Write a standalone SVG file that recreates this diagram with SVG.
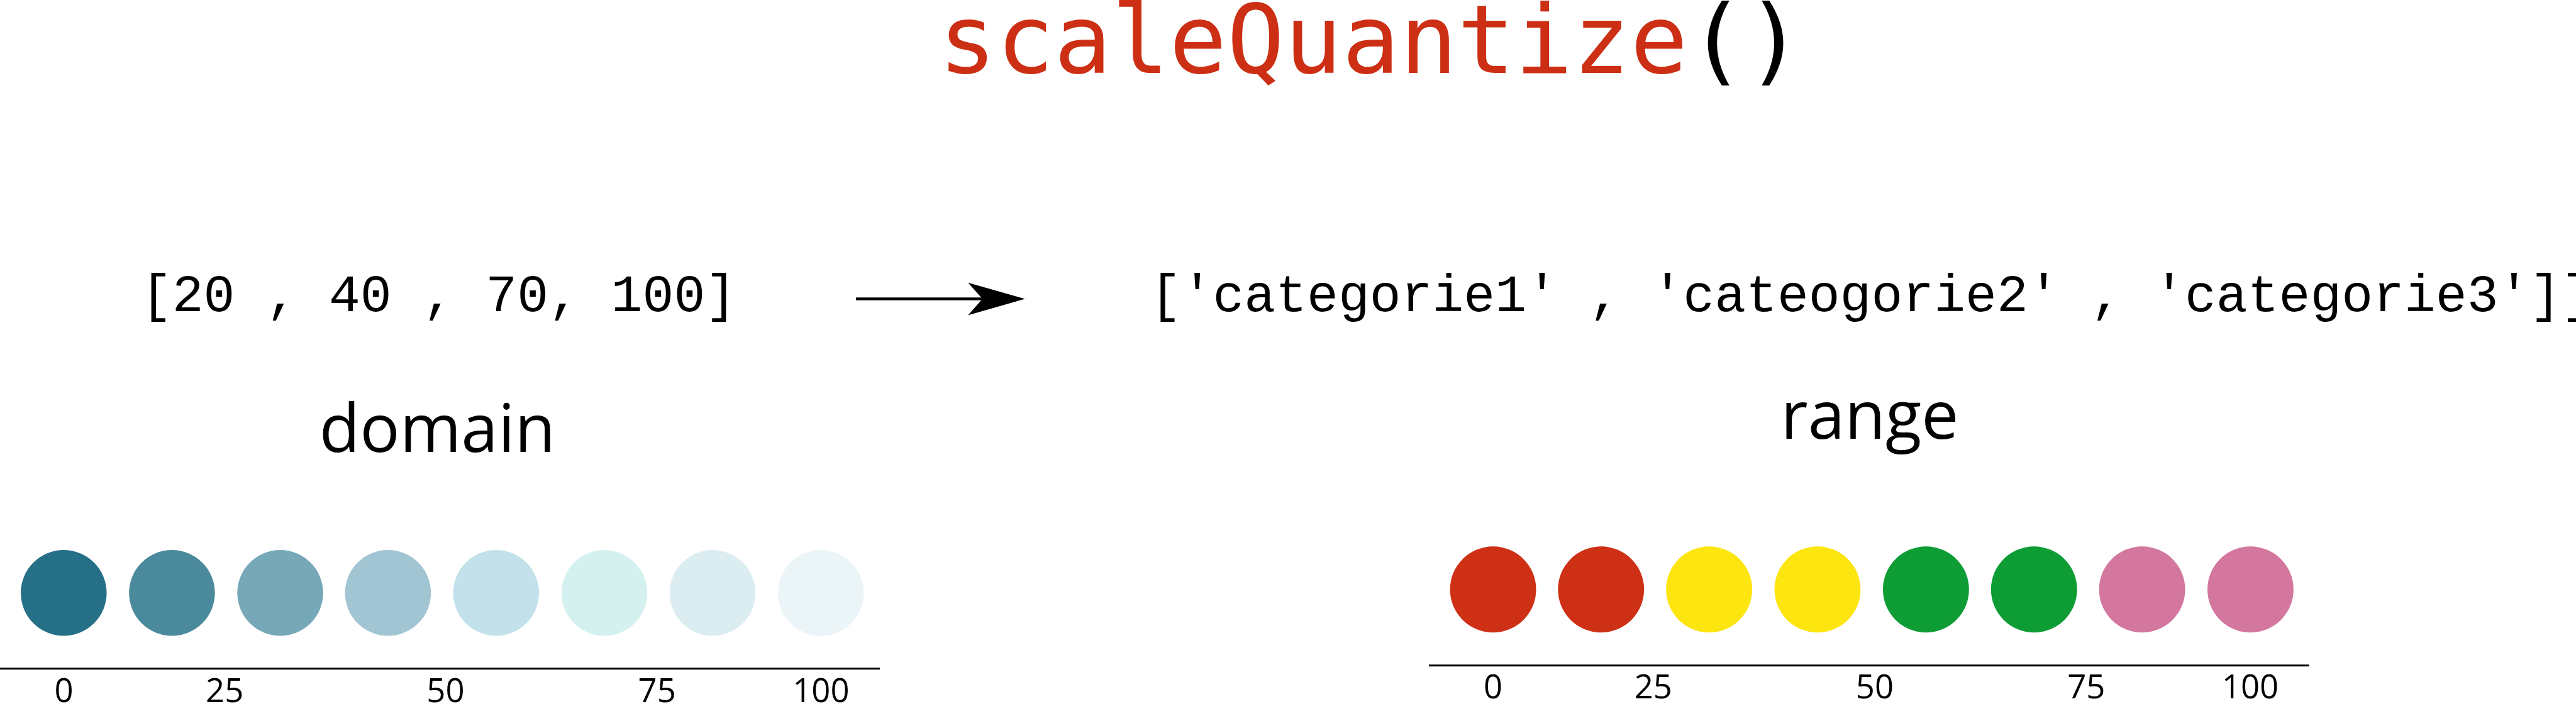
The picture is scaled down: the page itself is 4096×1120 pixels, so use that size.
<svg xmlns="http://www.w3.org/2000/svg" width="4096" height="1120" viewBox="0 0 4096 1120">
<style>
.title{font-family:"DejaVu Sans Mono",monospace;font-size:153px}
.code{font-family:"Liberation Mono","Courier New",monospace;font-size:83.5px;fill:#000}
.lbl{font-family:"Open Sans","Noto Sans",sans-serif;font-size:106px;fill:#000;text-anchor:middle}
.tick{font-family:"Open Sans","Noto Sans",sans-serif;font-size:53px;fill:#000;text-anchor:middle}
.axis{stroke:#000;stroke-width:3;fill:none}
.conn{stroke:#000;stroke-width:4.5;fill:none}
</style>
<defs>
<marker id="ah" markerUnits="userSpaceOnUse" markerWidth="100" markerHeight="60" refX="91" refY="26" orient="auto">
<path d="M91,26 L0,0 L23,26 L0,52 Z" fill="#000"/>
</marker>
</defs>
<rect width="4096" height="1120" fill="#fff"/>
<g transform="scale(0.995)">
<g id="title">
<text class="title" x="1500" y="117"><tspan fill="#cc2f14">scaleQuantize</tspan><tspan fill="#000">()</tspan></text>
</g>
<g id="domain-values">
<text class="code" x="225" y="497" xml:space="preserve">[20 , 40 , 70, 100]</text>
</g>
<g id="range-values">
<text class="code" x="1838" y="497" xml:space="preserve">['categorie1' , 'cateogorie2' , 'categorie3']]</text>
</g>
<g id="domain-label">
<text class="lbl" x="699" y="723">domain</text>
</g>
<g id="range-label">
<text class="lbl" x="2988" y="702">range</text>
</g>
<g id="connectors">
<line class="conn" x1="1368" y1="478" x2="1572" y2="478"/>
<path d="M1638,478 L1547,452 L1570,478 L1547,504 Z" fill="#000"/>
</g>
<g id="domain-scale">
<circle cx="101.8" cy="948" r="68.6" fill="#267087"/>
<circle cx="274.8" cy="948" r="68.6" fill="#4b8a9d"/>
<circle cx="447.8" cy="948" r="68.6" fill="#76a8b8"/>
<circle cx="620" cy="948" r="68.6" fill="#a1c5d2"/>
<circle cx="792.8" cy="948" r="68.6" fill="#c3e1ea"/>
<circle cx="965.8" cy="948" r="68.6" fill="#d5f1ef"/>
<circle cx="1138.7" cy="948" r="68.6" fill="#dcedf1"/>
<circle cx="1311.7" cy="948" r="68.6" fill="#ebf4f7"/>
<line class="axis" x1="0" y1="1069" x2="1406" y2="1069"/>
<text class="tick" x="102" y="1123">0</text>
<text class="tick" x="359" y="1123">25</text>
<text class="tick" x="712" y="1123">50</text>
<text class="tick" x="1050" y="1123">75</text>
<text class="tick" x="1312" y="1123">100</text>
</g>
<g id="range-scale">
<circle cx="2386" cy="942.5" r="68.8" fill="#cd3015"/>
<circle cx="2558.5" cy="942.5" r="68.8" fill="#cd3015"/>
<circle cx="2731.3" cy="942.5" r="68.8" fill="#fde50f"/>
<circle cx="2904.5" cy="942.5" r="68.8" fill="#fde50f"/>
<circle cx="3077.8" cy="942.5" r="68.8" fill="#0e9c35"/>
<circle cx="3250.5" cy="942.5" r="68.8" fill="#0e9c35"/>
<circle cx="3423.2" cy="942.5" r="68.8" fill="#d3779e"/>
<circle cx="3596.4" cy="942.5" r="68.8" fill="#d3779e"/>
<line class="axis" x1="2283.5" y1="1064" x2="3690" y2="1064"/>
<text class="tick" x="2386" y="1117">0</text>
<text class="tick" x="2642" y="1117">25</text>
<text class="tick" x="2996" y="1117">50</text>
<text class="tick" x="3334" y="1117">75</text>
<text class="tick" x="3596" y="1117">100</text>
</g>
</g>
</svg>
